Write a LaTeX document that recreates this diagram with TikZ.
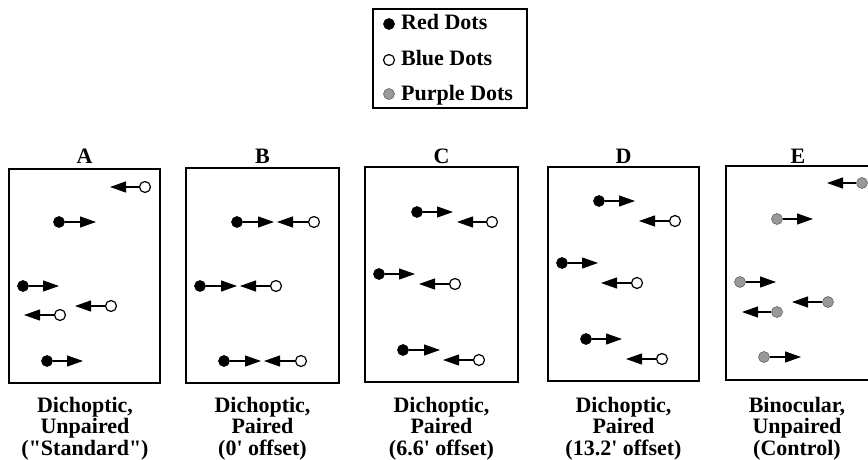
\documentclass[tikz,border=0pt]{standalone}
\usepackage{fontspec}
\setmainfont{Liberation Serif}[Ligatures=TeXOff]
\usetikzlibrary{arrows.meta}
\tikzset{
  panel/.style={draw, line width=1.3pt},
  dotbase/.style={circle, inner sep=0pt, minimum size=11pt},
  reddot/.style={dotbase, fill=black, draw=black, line width=0.6pt},
  bluedot/.style={dotbase, fill=white, draw=black, line width=1.2pt},
  purpdot/.style={dotbase, fill=gray!80, draw=gray!80!black, line width=0.6pt},
  mv/.style={draw, line width=1.1pt, -{Triangle[length=16pt,width=11pt]}},
  lbl/.style={font=\bfseries\fontsize{22}{21.5}\selectfont, inner sep=0pt},
}
\begin{document}
\begin{tikzpicture}[x=1pt, y=-1pt]
\useasboundingbox (0,0) rectangle (868,460);

% legend
\draw[line width=1.1pt] (373,9) rectangle (527,108);
\node[reddot]  (ld1) at (389,24) {};
\node[bluedot] (ld2) at (389,60) {};
\node[purpdot] (ld3) at (389,94) {};
\node[lbl, anchor=base west] (lt1) at (401,30) {Red Dots};
\node[lbl, anchor=base west] (lt2) at (401,66) {Blue Dots};
\node[lbl, anchor=base west] (lt3) at (401,100) {Purple Dots};

% titles
\node[lbl, anchor=base] (tA) at (84.5,163) {A};
\node[lbl, anchor=base] (tB) at (262.5,163) {B};
\node[lbl, anchor=base] (tC) at (441.5,163) {C};
\node[lbl, anchor=base] (tD) at (623.5,163) {D};
\node[lbl, anchor=base] (tE) at (798,163) {E};

% panels
\draw[panel] (9,169) rectangle (160,383);
\draw[panel] (186,168) rectangle (339,383);
\draw[panel] (365,167) rectangle (518,382);
\draw[panel] (548,167) rectangle (699,381);
\draw[panel] (726,166) rectangle (880,380);

% panel A
\node[bluedot] (a1) at (145,187) {}; \coordinate (a1t) at (110,187); \draw[mv] (a1) -- (a1t);
\node[reddot]  (a2) at (59,222)  {}; \coordinate (a2t) at (96,222);  \draw[mv] (a2) -- (a2t);
\node[reddot]  (a3) at (23,286)  {}; \coordinate (a3t) at (59,286);  \draw[mv] (a3) -- (a3t);
\node[bluedot] (a4) at (111,306) {}; \coordinate (a4t) at (75,306);  \draw[mv] (a4) -- (a4t);
\node[bluedot] (a5) at (60,315)  {}; \coordinate (a5t) at (24,315);  \draw[mv] (a5) -- (a5t);
\node[reddot]  (a6) at (47,361)  {}; \coordinate (a6t) at (83,361);  \draw[mv] (a6) -- (a6t);

% panel B
\node[reddot]  (b1r) at (237,222) {}; \coordinate (b1rt) at (274,222); \draw[mv] (b1r) -- (b1rt);
\node[bluedot] (b1b) at (314,222) {}; \coordinate (b1bt) at (277,222); \draw[mv] (b1b) -- (b1bt);
\node[reddot]  (b2r) at (200,286) {}; \coordinate (b2rt) at (237,286); \draw[mv] (b2r) -- (b2rt);
\node[bluedot] (b2b) at (276,286) {}; \coordinate (b2bt) at (240,286); \draw[mv] (b2b) -- (b2bt);
\node[reddot]  (b3r) at (224,361) {}; \coordinate (b3rt) at (261,361); \draw[mv] (b3r) -- (b3rt);
\node[bluedot] (b3b) at (301,361) {}; \coordinate (b3bt) at (264,361); \draw[mv] (b3b) -- (b3bt);

% panel C
\node[reddot]  (c1r) at (417,212) {}; \coordinate (c1rt) at (453,212); \draw[mv] (c1r) -- (c1rt);
\node[bluedot] (c1b) at (492,222) {}; \coordinate (c1bt) at (457,222); \draw[mv] (c1b) -- (c1bt);
\node[reddot]  (c2r) at (379,274) {}; \coordinate (c2rt) at (415,274); \draw[mv] (c2r) -- (c2rt);
\node[bluedot] (c2b) at (455,284) {}; \coordinate (c2bt) at (419,284); \draw[mv] (c2b) -- (c2bt);
\node[reddot]  (c3r) at (403,350) {}; \coordinate (c3rt) at (440,350); \draw[mv] (c3r) -- (c3rt);
\node[bluedot] (c3b) at (479,360) {}; \coordinate (c3bt) at (443,360); \draw[mv] (c3b) -- (c3bt);

% panel D
\node[reddot]  (d1r) at (599,201) {}; \coordinate (d1rt) at (635,201); \draw[mv] (d1r) -- (d1rt);
\node[bluedot] (d1b) at (675,221) {}; \coordinate (d1bt) at (639,221); \draw[mv] (d1b) -- (d1bt);
\node[reddot]  (d2r) at (562,263) {}; \coordinate (d2rt) at (598,263); \draw[mv] (d2r) -- (d2rt);
\node[bluedot] (d2b) at (637,283) {}; \coordinate (d2bt) at (601,283); \draw[mv] (d2b) -- (d2bt);
\node[reddot]  (d3r) at (586,339) {}; \coordinate (d3rt) at (622,339); \draw[mv] (d3r) -- (d3rt);
\node[bluedot] (d3b) at (662,359) {}; \coordinate (d3bt) at (626,359); \draw[mv] (d3b) -- (d3bt);

% panel E
\node[purpdot] (e1) at (862,183) {}; \coordinate (e1t) at (827,183); \draw[mv] (e1) -- (e1t);
\node[purpdot] (e2) at (777,219) {}; \coordinate (e2t) at (813,219); \draw[mv] (e2) -- (e2t);
\node[purpdot] (e3) at (740,282) {}; \coordinate (e3t) at (776,282); \draw[mv] (e3) -- (e3t);
\node[purpdot] (e4) at (828,302) {}; \coordinate (e4t) at (792,302); \draw[mv] (e4) -- (e4t);
\node[purpdot] (e5) at (777,312) {}; \coordinate (e5t) at (742,312); \draw[mv] (e5) -- (e5t);
\node[purpdot] (e6) at (764,357) {}; \coordinate (e6t) at (801,357); \draw[mv] (e6) -- (e6t);

% bottom labels
\node[lbl, align=center, anchor=north] (bA) at (85,397) {Dichoptic,\\Unpaired\\("Standard")};
\node[lbl, align=center, anchor=north] (bB) at (262.5,397) {Dichoptic,\\Paired\\(0' offset)};
\node[lbl, align=center, anchor=north] (bC) at (441.5,397) {Dichoptic,\\Paired\\(6.6' offset)};
\node[lbl, align=center, anchor=north] (bD) at (623.5,397) {Dichoptic,\\Paired\\(13.2' offset)};
\node[lbl, align=center, anchor=north] (bE) at (797,397) {Binocular,\\Unpaired\\(Control)};
\end{tikzpicture}
\end{document}
